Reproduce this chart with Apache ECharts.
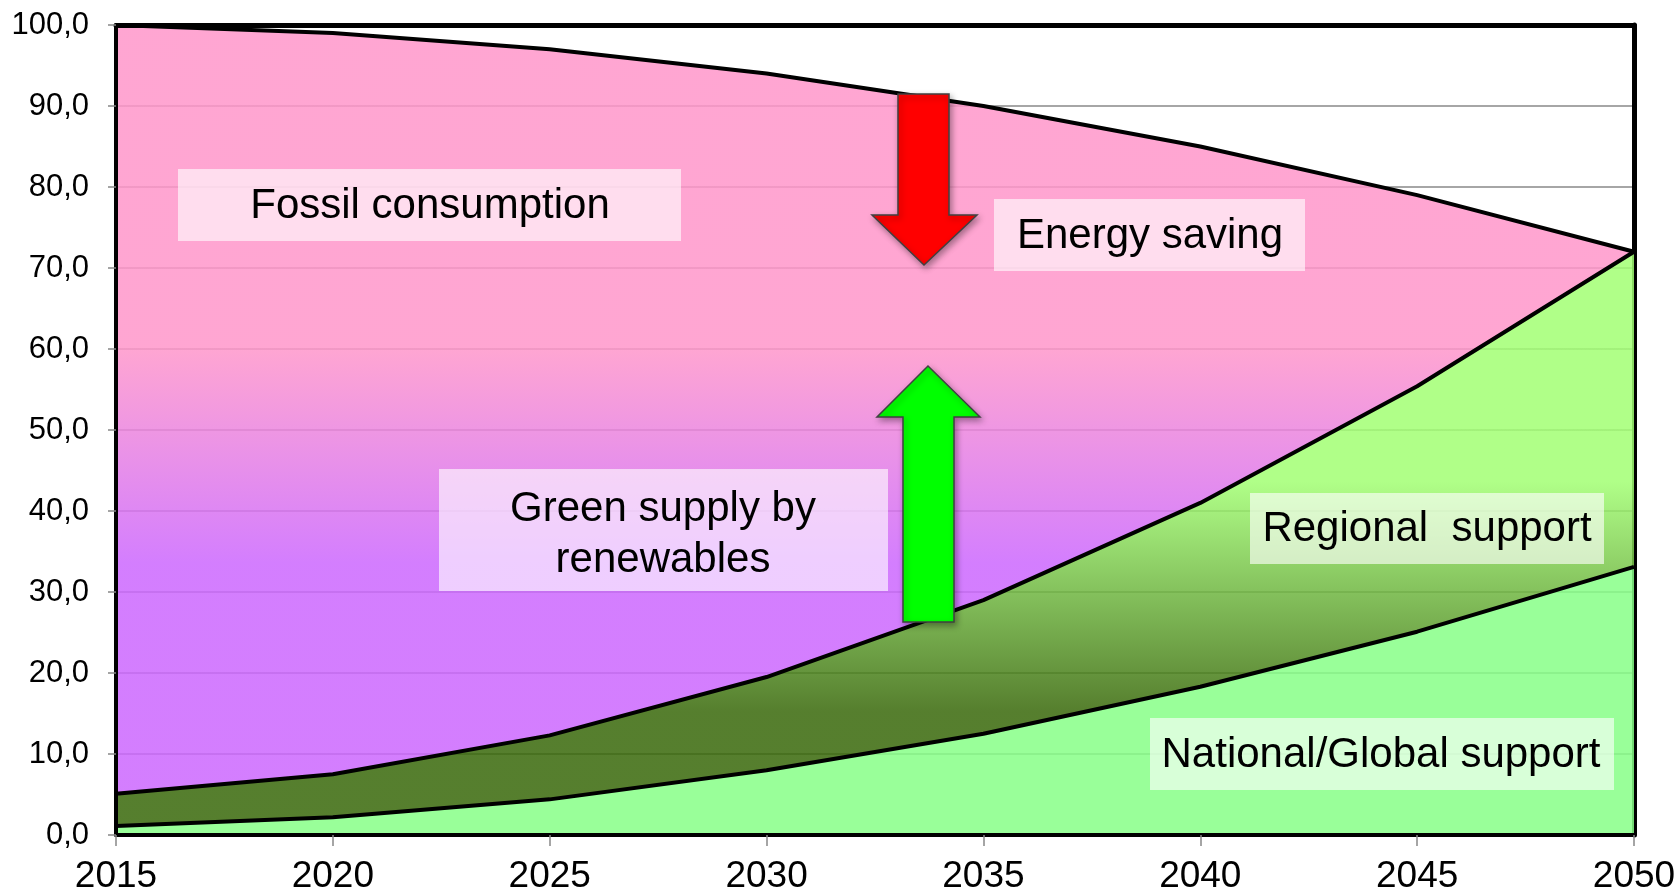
<!DOCTYPE html>
<html>
<head>
<meta charset="utf-8">
<script src="https://cdn.jsdelivr.net/npm/echarts@6/dist/echarts.min.js"></script>
<style>
  html, body { margin: 0; padding: 0; background: #fff; }
  #chart { width: 1680px; height: 896px; }
</style>
</head>
<body>
<div id="chart"></div>
<script>
// ---- data ----
const years = ['2015', '2020', '2025', '2030', '2035', '2040', '2045', '2050'];
const nationalSupport = [1.1, 2.2, 4.4, 8.0, 12.5, 18.3, 25.1, 33.1];
const regionalSupport = [4.0, 5.3, 7.9, 11.5, 16.5, 22.7, 30.3, 38.9];
const fossilConsumption = [94.9, 91.5, 84.7, 74.5, 61.0, 44.0, 23.6, 0.0];
const yTicks = { min: 0, max: 100, interval: 10 };

const FONT = "'Liberation Sans', Arial, sans-serif";
const chart = echarts.init(document.getElementById('chart'), null, { renderer: 'canvas' });

function grad(stops) {
  return { type: 'linear', x: 0, y: 0, x2: 0, y2: 1, colorStops: stops };
}

const areaBase = { type: 'line', stack: 'area', symbol: 'none', lineStyle: { width: 0, opacity: 0 }, z: 2, silent: true };
const lineBase = { type: 'line', stack: 'line', symbol: 'none', lineStyle: { color: '#000', width: 4 }, z: 5, silent: true };

function box(x, y, w, h) {
  return { type: 'rect', z: 100, shape: { x: x, y: y, width: w, height: h }, style: { fill: 'rgba(255,255,255,0.62)' } };
}
function label(text, x, y) {
  return { type: 'text', z: 101, style: { text: text, x: x, y: y, font: '42px ' + FONT, fill: '#000', align: 'center', verticalAlign: 'middle' } };
}
const arrowStyle = (fill) => ({ fill: fill, stroke: '#404040', lineWidth: 1.5, shadowBlur: 6, shadowOffsetX: 2, shadowOffsetY: 3, shadowColor: 'rgba(0,0,0,0.35)' });

const option = {
  animation: false,
  backgroundColor: '#fff',
  grid: { left: 116, right: 46, top: 25, bottom: 61, containLabel: false },
  xAxis: [
    {
      type: 'category', data: years, boundaryGap: false, position: 'bottom', z: 10,
      axisLine: { show: true, onZero: false, lineStyle: { color: '#000', width: 4 } },
      axisTick: { show: true, length: 11, lineStyle: { color: '#888', width: 1.5 } },
      axisLabel: { fontSize: 37, fontFamily: FONT, color: '#000', margin: 23 },
      splitLine: { show: false }
    },
    {
      type: 'category', data: years, boundaryGap: false, position: 'top', z: 10,
      axisLine: { show: true, onZero: false, lineStyle: { color: '#000', width: 5 } },
      axisTick: { show: false }, axisLabel: { show: false }, splitLine: { show: false }
    }
  ],
  yAxis: [
    {
      type: 'value', min: yTicks.min, max: yTicks.max, interval: yTicks.interval, position: 'left', z: 10,
      axisLine: { show: true, onZero: false, lineStyle: { color: '#000', width: 4 } },
      axisTick: { show: true, length: 8, lineStyle: { color: '#888', width: 1.5 } },
      axisLabel: { fontSize: 31, fontFamily: FONT, color: '#000', margin: 27,
        formatter: (v) => v.toFixed(1).replace('.', ',') },
      splitLine: { show: false }
    },
    {
      type: 'value', min: yTicks.min, max: yTicks.max, interval: yTicks.interval, position: 'right', z: 0,
      axisLine: { show: true, onZero: false, lineStyle: { color: '#000', width: 5 } },
      axisTick: { show: false }, axisLabel: { show: false },
      splitLine: { show: true, lineStyle: { color: '#888', width: 1.5 } }
    }
  ],
  series: [
    Object.assign({}, areaBase, { name: 'National/Global support', data: nationalSupport,
      areaStyle: { color: '#87FF87', opacity: 0.85 } }),
    Object.assign({}, areaBase, { name: 'Regional support', data: regionalSupport,
      areaStyle: { opacity: 0.85, color: grad([
        { offset: 0, color: '#A2FF73' }, { offset: 0.40, color: '#A2FF73' },
        { offset: 0.80, color: '#386809' }, { offset: 1, color: '#386809' }]) } }),
    Object.assign({}, areaBase, { name: 'Fossil consumption', data: fossilConsumption,
      areaStyle: { opacity: 0.85, color: grad([
        { offset: 0, color: '#FF96CA' }, { offset: 0.42, color: '#FF96CA' },
        { offset: 0.70, color: '#CC67FE' }, { offset: 1, color: '#CC67FE' }]) } }),
    Object.assign({}, lineBase, { name: 'l1', data: nationalSupport }),
    Object.assign({}, lineBase, { name: 'l2', data: regionalSupport }),
    Object.assign({}, lineBase, { name: 'l3', data: fossilConsumption })
  ],
  graphic: [
    box(178, 169, 503, 72), label('Fossil consumption', 430, 206),
    box(994, 199, 311, 72), label('Energy saving', 1150, 236),
    box(439, 469, 449, 122), label('Green supply by', 663, 509), label('renewables', 663, 560),
    box(1250, 493, 354, 71), label('Regional  support', 1427, 529),
    box(1150, 718, 464, 72), label('National/Global support', 1381, 755),
    { type: 'polygon', z: 110, shape: { points: [[898, 94], [949, 94], [949, 215], [977, 215], [924, 265], [872, 215], [898, 215]] }, style: arrowStyle('#FF0000') },
    { type: 'polygon', z: 110, shape: { points: [[903, 622], [954, 622], [954, 417], [980, 417], [928, 366], [877, 417], [903, 417]] }, style: arrowStyle('#00FF00') }
  ]
};
chart.setOption(option);
</script>
</body>
</html>
